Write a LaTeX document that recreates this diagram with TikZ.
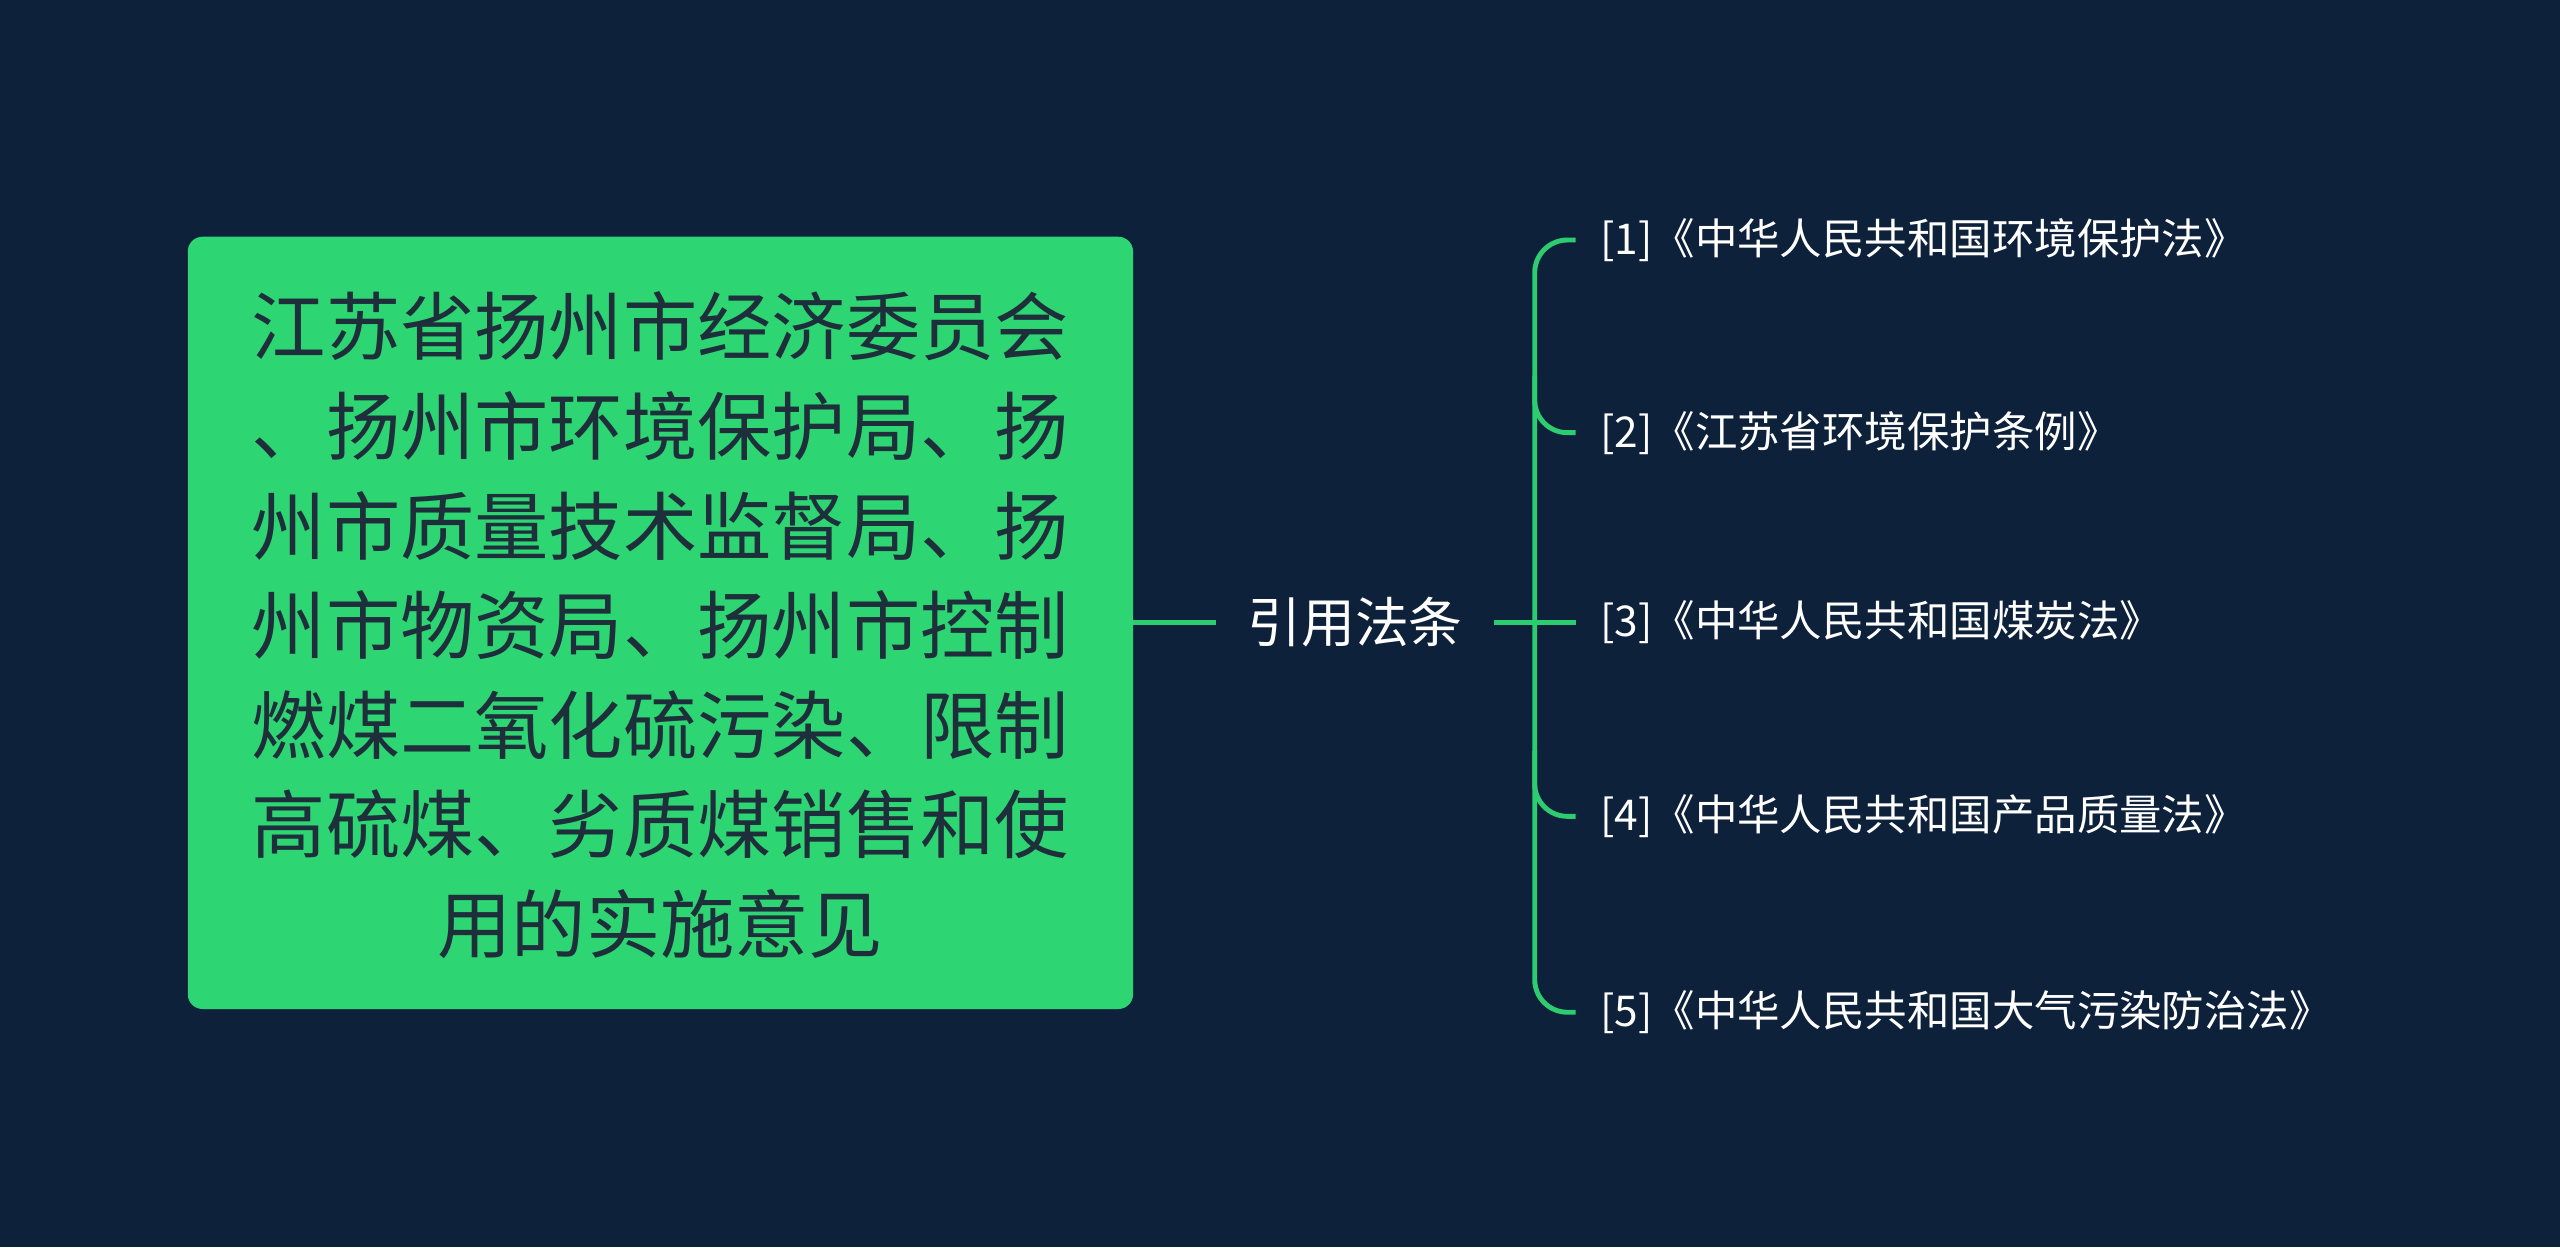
\documentclass[tikz,border=0pt]{standalone}
\usepackage{fontspec}
\setmainfont{Noto Sans CJK SC}
\definecolor{bg}{HTML}{0E213B}
\definecolor{gr}{HTML}{2ED573}
\definecolor{ln}{HTML}{2ECC71}
\definecolor{tx}{HTML}{1E2E3A}
\begin{document}
\begin{tikzpicture}[x=1pt,y=-1pt,
  conn/.style={draw=ln,line width=3pt},
  child/.style={anchor=west,text=white,font=\fontsize{26}{30}\selectfont,inner xsep=15pt,inner ysep=0pt}]
\fill[bg] (0,0) rectangle (1568,764);
\useasboundingbox (0,0) rectangle (1568,764);
\node[fill=gr,rounded corners=9pt,minimum width=579pt,minimum height=473pt,inner sep=0pt] (root) at (404.5,381.5) {};
\node[text=tx,align=center,font=\fontsize{45.5}{61}\selectfont] (roottxt) at (404.5,383)
 {江苏省扬州市经济委员会\\、扬州市环境保护局、扬\\州市质量技术监督局、扬\\州市物资局、扬州市控制\\燃煤二氧化硫污染、限制\\高硫煤、劣质煤销售和使\\用的实施意见};
\node[text=white,font=\fontsize{33}{38}\selectfont,inner sep=0pt] (mid) at (830,381) {引用法条};
\coordinate (ml) at (745,381);
\coordinate (mr) at (915,381);
\draw[conn] (694,381) -- (ml);
\node[child] (c1) at (965,147) {[1]《中华人民共和国环境保护法》};
\node[child] (c2) at (965,265) {[2]《江苏省环境保护条例》};
\node[child] (c3) at (965,381) {[3]《中华人民共和国煤炭法》};
\node[child] (c4) at (965,500) {[4]《中华人民共和国产品质量法》};
\node[child] (c5) at (965,620) {[5]《中华人民共和国大气污染防治法》};
\draw[conn] (mr) -- (c3.west);
\draw[conn,rounded corners=20pt] (c1.west) -- (940,147) -- (940,620) -- (c5.west);
\draw[conn,rounded corners=20pt] (940,230) -- (940,265) -- (c2.west);
\draw[conn,rounded corners=20pt] (940,460) -- (940,500) -- (c4.west);
\end{tikzpicture}
\end{document}
